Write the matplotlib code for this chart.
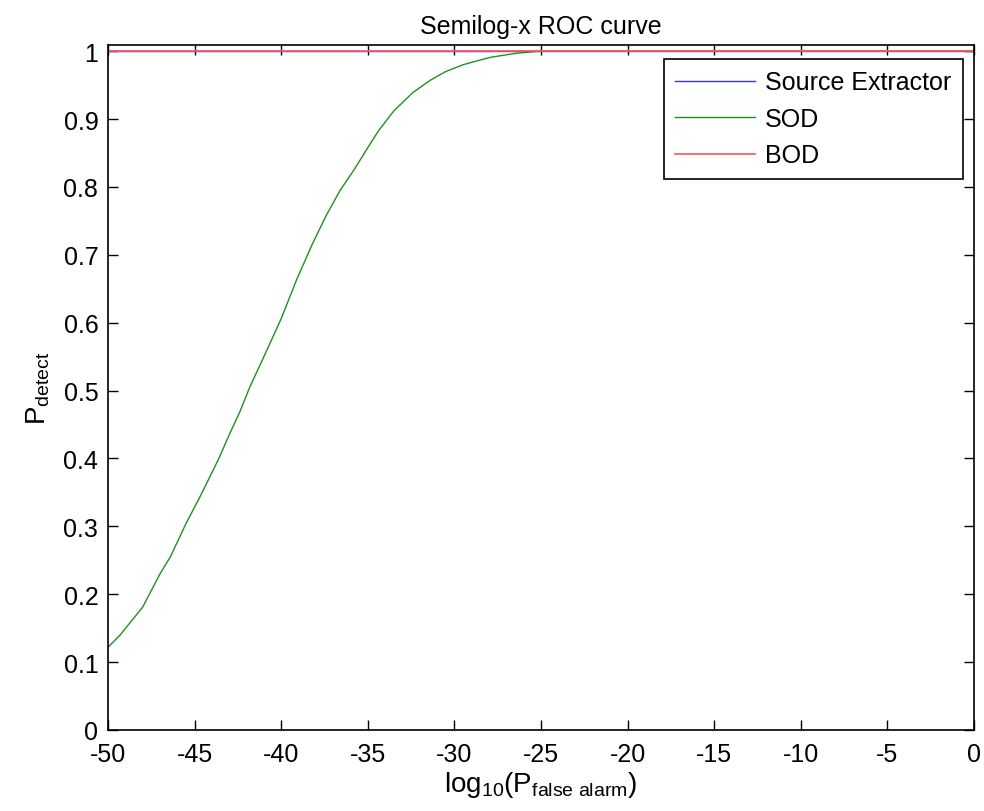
import numpy as np
import matplotlib
matplotlib.use("Agg")
from matplotlib import pyplot as plt

plt.rcParams['font.family'] = ['Liberation Sans', 'DejaVu Sans']
plt.rcParams['mathtext.fontset'] = 'custom'
plt.rcParams['mathtext.rm'] = 'Liberation Sans'
plt.rcParams['mathtext.it'] = 'Liberation Sans'
plt.rcParams['axes.unicode_minus'] = False

# SOD curve
sod_x = [-50, -49.3, -48, -47, -46.4, -45.5, -44.7, -43.6, -43, -42.4, -41.8,
         -41, -40, -39.1, -38.2, -37.4, -36.6, -35.8, -34.9, -34.4, -33.5,
         -32.4, -31.4, -30.5, -29.5, -28.5, -27.9, -26.4, -25, 0]
sod_y = [0.122, 0.140, 0.181, 0.230, 0.255, 0.304, 0.343, 0.400, 0.435, 0.468, 0.506,
         0.550, 0.606, 0.664, 0.716, 0.758, 0.795, 0.825, 0.862, 0.882, 0.912,
         0.939, 0.957, 0.970, 0.980, 0.987, 0.991, 0.997, 1.0, 1.0]

# Source Extractor and BOD detect everything
flat_x = [-50, 0]
sex_y = [1.0, 1.0]
bod_y = [1.0, 1.0]

xticks = np.arange(-50, 1, 5)
yticks = np.arange(0, 1.01, 0.1)

fig = plt.figure(figsize=(9.84, 8.12), dpi=100)
ax = fig.add_axes([0.1098, 0.0998, 0.880, 0.8435])

ax.plot(flat_x, sex_y, color='#3333ff', lw=1.0, label='Source Extractor')
ax.plot(sod_x, sod_y, color='#1f901f', lw=1.0, label='SOD')
ax.plot(flat_x, bod_y, color='#ff5555', lw=1.2, label='BOD')

ax.set_xlim(-50, 0)
ax.set_ylim(0, 1.009)
ax.set_xticks(xticks)
ax.set_yticks(yticks)
ax.set_yticklabels(['0'] + ['%.1f' % v for v in yticks[1:-1]] + ['1'])
ax.tick_params(direction='in', top=True, right=True, length=7, width=1,
               labelsize=18)
ax.tick_params(axis='x', pad=9)
ax.tick_params(axis='y', pad=7)
for s in ax.spines.values():
    s.set_linewidth(1.2)

ax.set_title('Semilog-x ROC curve', fontsize=18, pad=9)
ax.set_xlabel(r'log$_{10}$(P$_{\mathrm{false\ alarm}}$)', fontsize=20, labelpad=2)
ax.set_ylabel(r'P$_{\mathrm{detect}}$', fontsize=20, labelpad=8)

leg = ax.legend(loc='upper right', bbox_to_anchor=(0.987, 0.9796), fontsize=18,
                fancybox=False, edgecolor='black', framealpha=1,
                handlelength=3.2, borderpad=0.45, labelspacing=0.5,
                handletextpad=0.4, borderaxespad=0)
leg.get_frame().set_linewidth(1.2)

fig.savefig('out.png', dpi=100)
